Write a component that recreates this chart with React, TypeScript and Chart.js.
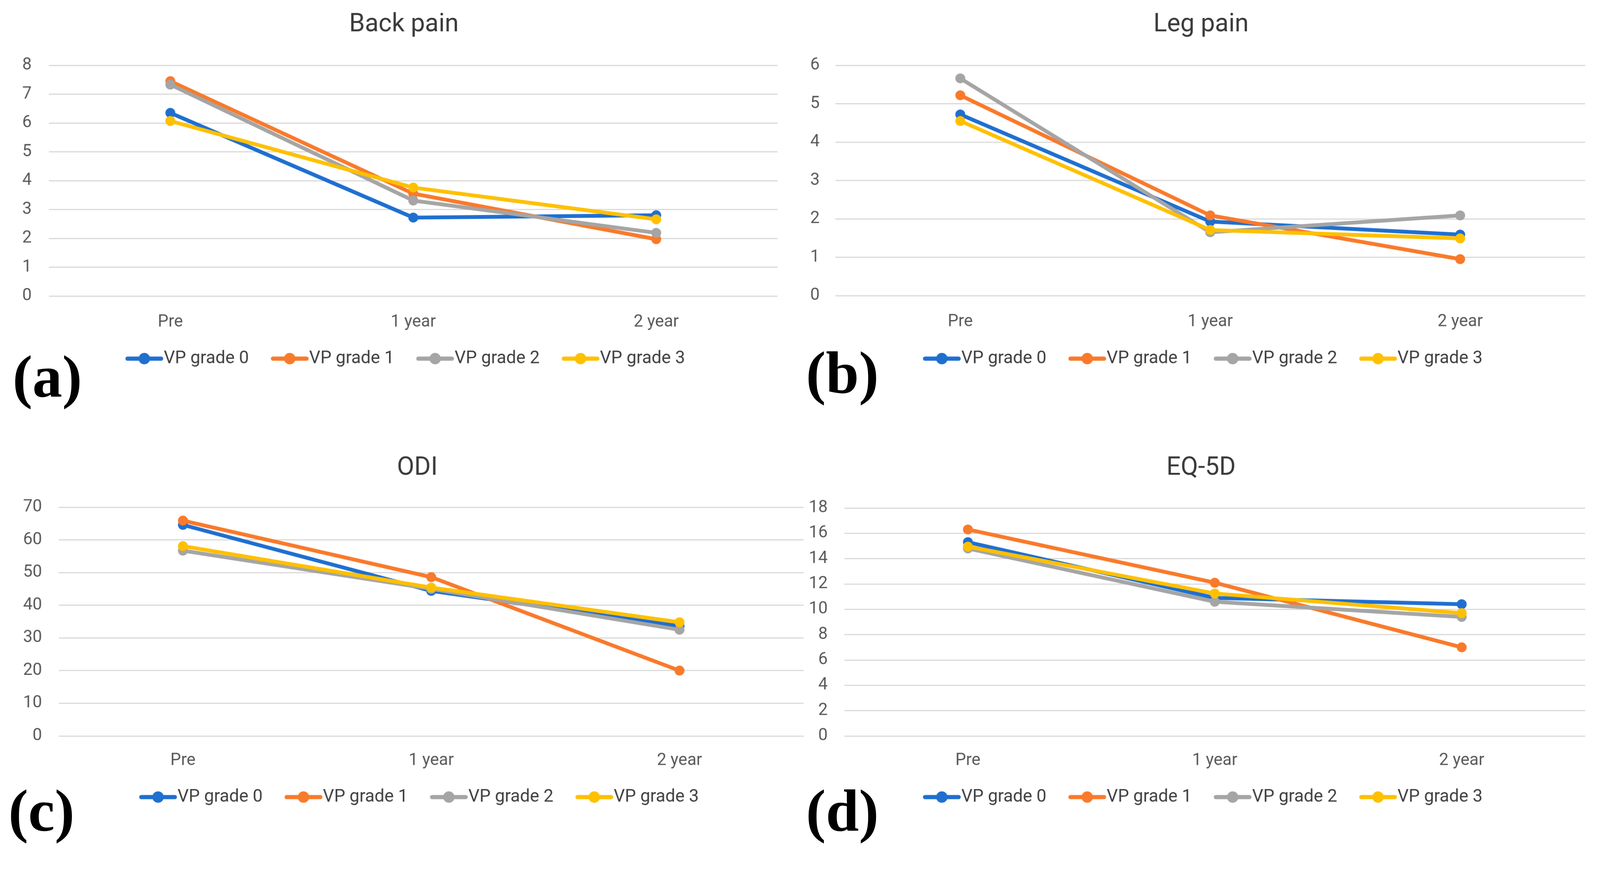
import React, { useEffect, useRef } from 'react';
import { Chart, registerables } from 'chart.js';

Chart.register(...registerables);

// ---------- data ----------
const categories = ['Pre', '1 year', '2 year'];
const seriesNames = ['VP grade 0', 'VP grade 1', 'VP grade 2', 'VP grade 3'];
const seriesColors = ['#1F6FD0', '#F97A2B', '#A5A5A5', '#FFC000'];

const backPainG0 = [6.35, 2.72, 2.8];
const backPainG1 = [7.45, 3.55, 1.97];
const backPainG2 = [7.33, 3.31, 2.19];
const backPainG3 = [6.07, 3.76, 2.66];
const backPainAxis = [0, 8, 1];

const legPainG0 = [4.72, 1.93, 1.59];
const legPainG1 = [5.22, 2.09, 0.95];
const legPainG2 = [5.66, 1.65, 2.09];
const legPainG3 = [4.55, 1.71, 1.49];
const legPainAxis = [0, 6, 1];

const odiG0 = [64.6, 44.4, 33.6];
const odiG1 = [65.9, 48.6, 20.0];
const odiG2 = [56.7, 45.0, 32.5];
const odiG3 = [58.1, 45.4, 34.8];
const odiAxis = [0, 70, 10];

const eqG0 = [15.3, 10.9, 10.4];
const eqG1 = [16.3, 12.1, 7.0];
const eqG2 = [14.8, 10.6, 9.4];
const eqG3 = [14.95, 11.25, 9.7];
const eqAxis = [0, 18, 2];

const FONT = 'Roboto, "Noto Sans", sans-serif';
const TITLE_SIZE = 66;
const LEGEND_SIZE = 46;
const TICK_SIZE = 44;
const LEGEND_PAD = 79;
const ICON_W = 100;
const ICON_BOX = 56;
const TITLE_DY = 6;
const PAGE_W = 4191;
const PAGE_H = 2257;

// ---------- layout (positions / sizes only, canvas-local) ----------
type Panel = {
  title: string;
  tag: string;
  series: number[][];
  axis: number[];
  left: number; top: number; w: number; h: number;
  chartLeft: number; chartRight: number; chartTop: number; chartBottom: number;
  yTickPad: number; xTickPad: number;
  titleCx: number; titleCy: number;
  legendX0: number; legendCy: number;
  tagLeft: number; tagTop: number;
};

const panels: Panel[] = [
  {
    title: 'Back pain', tag: '(a)',
    series: [backPainG0, backPainG1, backPainG2, backPainG3], axis: backPainAxis,
    left: 0, top: 0, w: 2096, h: 1128,
    chartLeft: 128, chartRight: 2037, chartTop: 171, chartBottom: 775,
    yTickPad: 45, xTickPad: 35,
    titleCx: 1058, titleCy: 59, legendX0: 328, legendCy: 939,
    tagLeft: 33, tagTop: 909,
  },
  {
    title: 'Leg pain', tag: '(b)',
    series: [legPainG0, legPainG1, legPainG2, legPainG3], axis: legPainAxis,
    left: 2096, top: 0, w: 2095, h: 1128,
    chartLeft: 92, chartRight: 2056, chartTop: 171, chartBottom: 774,
    yTickPad: 41, xTickPad: 35,
    titleCx: 1050, titleCy: 59, legendX0: 321, legendCy: 939,
    tagLeft: 2111, tagTop: 898,
  },
  {
    title: 'ODI', tag: '(c)',
    series: [odiG0, odiG1, odiG2, odiG3], axis: odiAxis,
    left: 0, top: 1128, w: 2140, h: 1129,
    chartLeft: 154, chartRight: 2105, chartTop: 200, chartBottom: 799,
    yTickPad: 44, xTickPad: 31,
    titleCx: 1093, titleCy: 92, legendX0: 364, legendCy: 959,
    tagLeft: 22, tagTop: 2045,
  },
  {
    title: 'EQ-5D', tag: '(d)',
    series: [eqG0, eqG1, eqG2, eqG3], axis: eqAxis,
    left: 2096, top: 1128, w: 2095, h: 1129,
    chartLeft: 116, chartRight: 2056, chartTop: 202, chartBottom: 799,
    yTickPad: 44, xTickPad: 31,
    titleCx: 1050, titleCy: 92, legendX0: 321, legendCy: 959,
    tagLeft: 2111, tagTop: 2045,
  },
];

function makeIcon(color: string): HTMLCanvasElement {
  const c = document.createElement('canvas');
  c.width = ICON_W;
  c.height = 36;
  const ctx = c.getContext('2d')!;
  ctx.strokeStyle = color;
  ctx.lineWidth = 11;
  ctx.lineCap = 'round';
  ctx.beginPath();
  ctx.moveTo(6, 18);
  ctx.lineTo(ICON_W - 6, 18);
  ctx.stroke();
  ctx.fillStyle = color;
  ctx.beginPath();
  ctx.arc(ICON_W / 2, 18, 15, 0, Math.PI * 2);
  ctx.fill();
  return c;
}

function PanelChart({ p }: { p: Panel }) {
  const ref = useRef<HTMLCanvasElement | null>(null);
  useEffect(() => {
    if (!ref.current) return;
    const icons = seriesColors.map(makeIcon);
    const [ymin, ymax, ystep] = p.axis;
    const X_AXIS_H = 110;
    const titleLH = TITLE_SIZE * 1.2;
    const placePlugin = {
      id: 'placeBoxes',
      afterLayout(chart: any) {
        const tb = chart.titleBlock;
        if (tb) {
          const w = tb.right - tb.left;
          const h = tb.bottom - tb.top;
          tb.left = p.titleCx - w / 2;
          tb.right = tb.left + w;
          tb.top = p.titleCy + TITLE_DY - titleLH / 2;
          tb.bottom = tb.top + h;
        }
        const lg = chart.legend;
        if (lg) {
          const w = lg.right - lg.left;
          const h = lg.bottom - lg.top;
          const ih = lg.legendHitBoxes && lg.legendHitBoxes[0] ? lg.legendHitBoxes[0].height : LEGEND_SIZE;
          const overhang = (ICON_W - ICON_BOX) / 2;
          lg.left = p.legendX0 + overhang - LEGEND_PAD;
          lg.right = lg.left + w;
          lg.top = p.legendCy - LEGEND_PAD - ih / 2;
          lg.bottom = lg.top + h;
        }
      },
    };
    const cfg: any = {
      type: 'line',
      data: {
        labels: categories,
        datasets: p.series.map((vals, i) => ({
          label: seriesNames[i],
          data: vals,
          borderColor: seriesColors[i],
          backgroundColor: seriesColors[i],
          pointBackgroundColor: seriesColors[i],
          pointBorderColor: seriesColors[i],
          borderWidth: 10,
          pointRadius: 13,
          pointHoverRadius: 13,
          pointBorderWidth: 0,
          tension: 0,
          order: 3 - i,
        })),
      },
      options: {
        animation: false,
        responsive: false,
        devicePixelRatio: 1,
        events: [],
        layout: {
          padding: {
            left: 0,
            right: p.w - p.chartRight,
            top: p.chartTop - titleLH,
            bottom: p.h - p.chartBottom - X_AXIS_H - 143,
          },
        },
        plugins: {
          title: {
            display: true,
            text: p.title,
            color: '#3A3A3A',
            font: { family: FONT, size: TITLE_SIZE, weight: 'normal', lineHeight: 1.2 },
            padding: { top: 0, bottom: 0 },
          },
          legend: {
            position: 'bottom',
            align: 'start',
            labels: {
              usePointStyle: true,
              pointStyleWidth: ICON_BOX,
              padding: LEGEND_PAD,
              color: '#404040',
              font: { family: FONT, size: LEGEND_SIZE },
              sort: (a: any, b: any) => a.datasetIndex - b.datasetIndex,
              generateLabels: (ch: any) => {
                const items = (Chart.defaults.plugins.legend.labels as any).generateLabels(ch);
                items.forEach((it: any) => {
                  it.pointStyle = icons[it.datasetIndex];
                });
                return items;
              },
            },
          },
          tooltip: { enabled: false },
        },
        scales: {
          x: {
            offset: true,
            grid: { display: false },
            border: { display: false },
            ticks: { color: '#595959', font: { family: FONT, size: TICK_SIZE }, padding: p.xTickPad },
            afterFit: (s: any) => { s.height = X_AXIS_H; },
          },
          y: {
            min: ymin,
            max: ymax,
            ticks: { stepSize: ystep, color: '#595959', font: { family: FONT, size: TICK_SIZE }, padding: p.yTickPad },
            grid: { color: '#D9D9D9', lineWidth: 3, drawTicks: false },
            border: { display: false },
            afterFit: (s: any) => { s.width = p.chartLeft; },
          },
        },
      },
      plugins: [placePlugin],
    };
    const chart = new Chart(ref.current, cfg);
    // calibrate chart area to the target rectangle
    const ca = chart.chartArea;
    const pad = cfg.options.layout.padding;
    pad.top += p.chartTop - ca.top;
    pad.bottom += ca.bottom - p.chartBottom;
    chart.update();
    return () => chart.destroy();
  }, [p]);
  return (
    <canvas
      ref={ref}
      width={p.w}
      height={p.h}
      style={{ position: 'absolute', left: p.left, top: p.top, width: p.w, height: p.h }}
    />
  );
}

export default function App() {
  const vw = typeof window !== 'undefined' && window.innerWidth ? window.innerWidth : PAGE_W;
  const s = Math.min(1, vw / PAGE_W);
  return (
    <div
      style={{
        position: 'fixed', left: 0, top: 0, width: PAGE_W, height: PAGE_H,
        background: '#FFFFFF', overflow: 'hidden',
        transform: `scale(${s})`, transformOrigin: '0 0',
      }}
    >
      {panels.map((p) => (
        <PanelChart key={p.title} p={p} />
      ))}
      {panels.map((p) => (
        <div
          key={p.tag}
          style={{
            position: 'absolute', left: p.tagLeft, top: p.tagTop,
            fontFamily: '"Liberation Serif", "Times New Roman", serif',
            fontWeight: 'bold', fontSize: 156, lineHeight: 1, color: '#000',
          }}
        >
          {p.tag}
        </div>
      ))}
    </div>
  );
}
